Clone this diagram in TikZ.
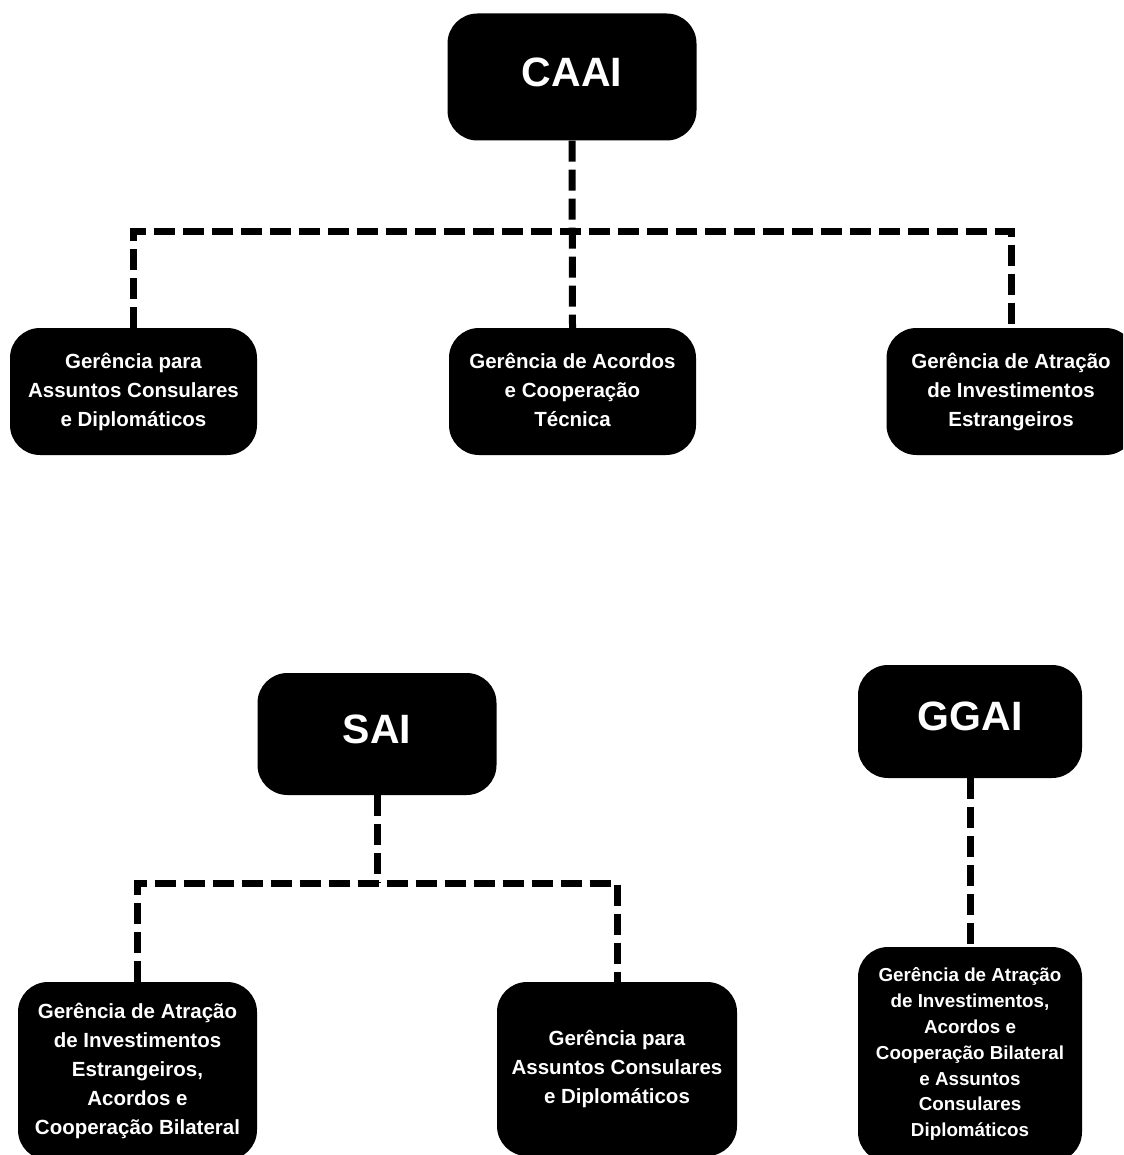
\documentclass[tikz,border=0pt]{standalone}
\usepackage{fontspec}
\setmainfont{Liberation Sans}
\usepackage{tikz}

\begin{document}
\begin{tikzpicture}[
  x=1pt, y=-1pt,
  box/.style={fill=black, text=white, rounded corners=30pt, align=center, inner sep=0pt,
    text depth=4.3pt, font=\bfseries\fontsize{20.5}{29}\selectfont},
  head/.style={box, text depth=10pt, font=\bfseries\fontsize{41}{49}\selectfont},
  link/.style={line width=7pt, dash pattern=on 21pt off 8pt}
]
\clip (0,0) rectangle (1123,1155);

% top chart
\node[head, minimum width=249pt, minimum height=127pt] (caai) at (572,77) {CAAI};
\node[box, minimum width=247pt, minimum height=127pt] (g1) at (133.5,391.5) {Gerência para\\Assuntos Consulares\\e Diplomáticos};
\node[box, minimum width=247pt, minimum height=127pt] (g2) at (572.5,391.5) {Gerência de Acordos\\e Cooperação\\Técnica};
\node[box, minimum width=249pt, minimum height=127pt] (g3) at (1011,391.5) {Gerência de Atração\\de Investimentos\\Estrangeiros};
\coordinate (bus) at (572,232);

\draw[link] (caai.south) -- (g2.north);
\draw[link] (g1.north) |- (bus) -| (g3.north);

% lower left chart
\node[head, minimum width=239pt, minimum height=122pt] (sai) at (377,734) {SAI};
\node[box, minimum width=239pt, minimum height=178pt] (s1) at (137.5,1071) {Gerência de Atração\\de Investimentos\\Estrangeiros,\\Acordos e\\Cooperação Bilateral};
\node[box, minimum width=240pt, minimum height=174pt] (s2) at (617,1069) {Gerência para\\Assuntos Consulares\\e Diplomáticos};
\coordinate (bus2) at (377,883);

\draw[link] (sai.south) -- (bus2);
\draw[link] (s1.north) |- (bus2) -| (s2.north);

% lower right chart
\node[head, minimum width=224pt, minimum height=113pt] (ggai) at (970,721.5) {GGAI};
\node[box, minimum width=224pt, minimum height=215pt, font=\bfseries\fontsize{18.8}{25.8}\selectfont] (gc) at (970,1054.5) {Gerência de Atração\\de Investimentos,\\Acordos e\\Cooperação Bilateral\\e Assuntos\\Consulares\\Diplomáticos};

\draw[link] (ggai.south) -- (gc.north);
\end{tikzpicture}
\end{document}
